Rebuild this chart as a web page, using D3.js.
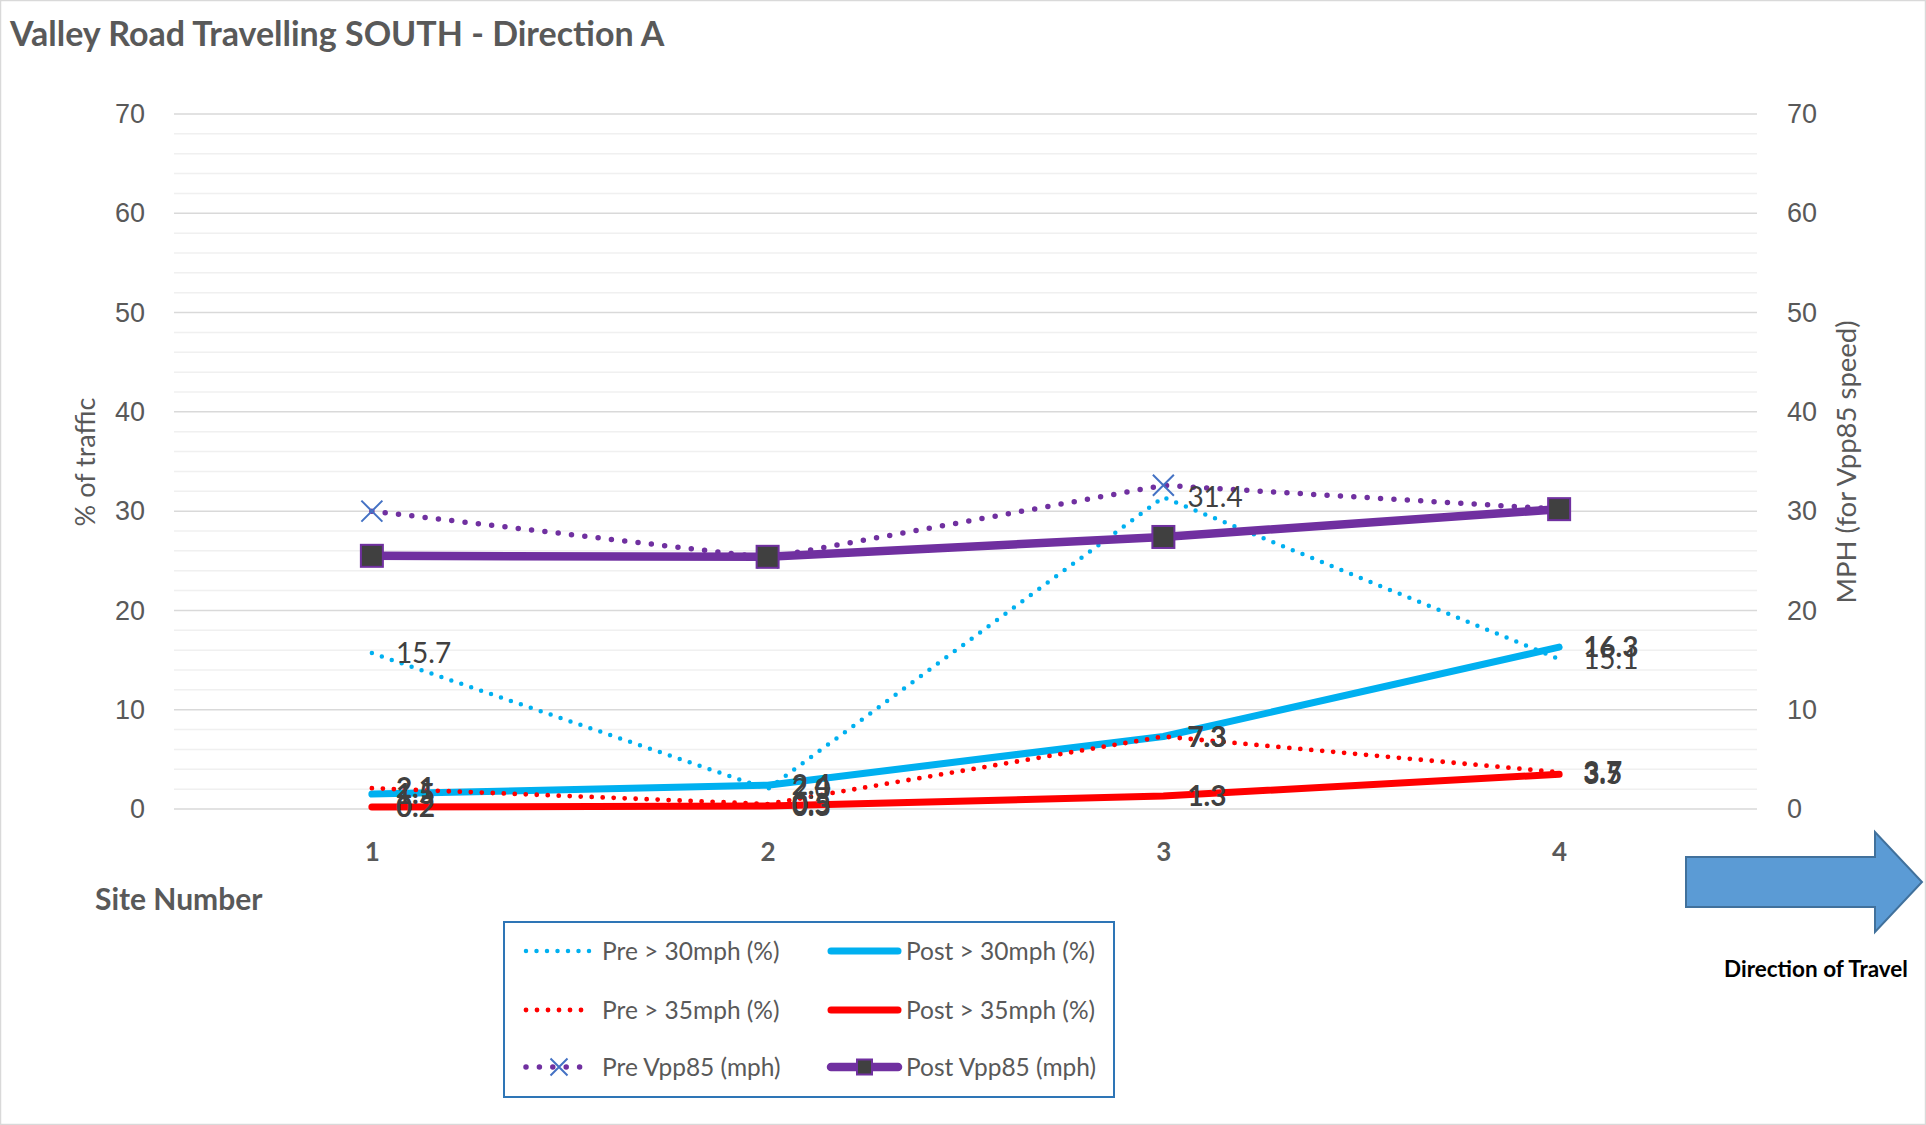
<!DOCTYPE html>
<html>
<head>
<meta charset="utf-8">
<script src="https://cdn.jsdelivr.net/npm/d3@7/dist/d3.min.js"></script>
<style>
  html, body { margin: 0; padding: 0; background: #ffffff; }
  svg { display: block; }
</style>
</head>
<body>
<svg id="chart" width="1926" height="1125"></svg>
<script>
// Site numbers along the road
const sites = ["1", "2", "3", "4"];

// Percentage of traffic over the speed thresholds
const pre30 = [15.7, 2.0, 31.4, 15.1];
const post30 = [1.5, 2.4, 7.3, 16.3];
const pre35 = [2.1, 0.5, 7.3, 3.7];
const post35 = [0.2, 0.3, 1.3, 3.5];

// 85th percentile speed (mph), secondary axis
const preVpp = [30.0, 25.3, 32.6, 30.2];
const postVpp = [25.5, 25.4, 27.4, 30.2];

// Axis ticks
const yTicks = [0, 10, 20, 30, 40, 50, 60, 70];
const yMinorTicks = d3.range(0, 71, 2);

const svg = d3.select("#chart");
const W = 1926, H = 1125;
const plot = { left: 174, right: 1757, top: 114, bottom: 809 };

const x = d3.scalePoint().domain(sites).range([plot.left, plot.right]).padding(0.5);
const y = d3.scaleLinear().domain([0, 70]).range([plot.bottom, plot.top]);
const y2 = d3.scaleLinear().domain([0, 70]).range([plot.bottom, plot.top]);

const calibri = "Lato, 'Open Sans', sans-serif";
const tickFont = "'Liberation Sans', Arial, sans-serif";
const grey = "#595959";

// Chart frame
svg.append("rect").attr("x", 0.5).attr("y", 0.5).attr("width", W - 1).attr("height", H - 1)
  .attr("fill", "#fff").attr("stroke", "#D9D9D9").attr("stroke-width", 1.5);

// Title
svg.append("text").attr("x", 10).attr("y", 46)
  .attr("font-family", calibri).attr("font-weight", 700).attr("font-size", 34)
  .attr("fill", grey).text("Valley Road Travelling SOUTH - Direction A");

// Gridlines: minor every 2, major every 10
const grid = svg.append("g");
grid.selectAll("line.minor").data(yMinorTicks.filter(v => v % 10 !== 0)).join("line")
  .attr("class", "minor")
  .attr("x1", plot.left).attr("x2", plot.right)
  .attr("y1", d => y(d)).attr("y2", d => y(d))
  .attr("stroke", "#F0F0F0").attr("stroke-width", 1.5);
grid.selectAll("line.major").data(yTicks).join("line")
  .attr("class", "major")
  .attr("x1", plot.left).attr("x2", plot.right)
  .attr("y1", d => y(d)).attr("y2", d => y(d))
  .attr("stroke", "#D9D9D9").attr("stroke-width", 1.5);

// Left axis
const leftAxis = svg.append("g").attr("transform", `translate(${plot.left},0)`)
  .call(d3.axisLeft(y).tickValues(yTicks).tickSize(0).tickPadding(29));
leftAxis.select(".domain").remove();
leftAxis.selectAll("text").attr("font-family", tickFont).attr("font-size", 27).attr("fill", grey);

// Right axis
const rightAxis = svg.append("g").attr("transform", `translate(${plot.right},0)`)
  .call(d3.axisRight(y2).tickValues(yTicks).tickSize(0).tickPadding(30));
rightAxis.select(".domain").remove();
rightAxis.selectAll("text").attr("font-family", tickFont).attr("font-size", 27).attr("fill", grey);

// Bottom axis (category labels)
const bottomAxis = svg.append("g").attr("transform", `translate(0,${plot.bottom})`)
  .call(d3.axisBottom(x).tickSize(0).tickPadding(34));
bottomAxis.select(".domain").remove();
bottomAxis.selectAll("text").attr("font-family", calibri).attr("font-weight", 700)
  .attr("font-size", 26).attr("fill", grey);

// Axis titles
svg.append("text").attr("transform", "translate(95,462) rotate(-90)")
  .attr("text-anchor", "middle").attr("font-family", calibri).attr("font-size", 27)
  .attr("fill", grey).text("% of traffic");
svg.append("text").attr("transform", "translate(1856,462) rotate(-90)")
  .attr("text-anchor", "middle").attr("font-family", calibri).attr("font-size", 27.5)
  .attr("fill", grey).text("MPH (for Vpp85 speed)");
svg.append("text").attr("x", 95).attr("y", 910)
  .attr("font-family", calibri).attr("font-weight", 700).attr("font-size", 30)
  .attr("fill", grey).text("Site Number");

// Series definitions
const series = [
  { name: "Pre > 30mph (%)", values: pre30, color: "#00B0F0", dotted: true, width: 4.5, gap: 10.5, scale: y, label: true, bold: false },
  { name: "Post > 30mph (%)", values: post30, color: "#00B0F0", dotted: false, width: 7, scale: y, label: true, bold: true },
  { name: "Pre > 35mph (%)", values: pre35, color: "#FF0000", dotted: true, width: 4.8, gap: 11, scale: y, label: true, bold: true },
  { name: "Post > 35mph (%)", values: post35, color: "#FF0000", dotted: false, width: 7, scale: y, label: true, bold: true },
  { name: "Pre Vpp85 (mph)", values: preVpp, color: "#7030A0", dotted: true, width: 5.5, gap: 13.4, scale: y2, marker: "x", label: false },
  { name: "Post Vpp85 (mph)", values: postVpp, color: "#7030A0", dotted: false, width: 8.5, scale: y2, marker: "square", label: false }
];

function styleStroke(sel, s) {
  sel.attr("fill", "none").attr("stroke", s.color).attr("stroke-width", s.width)
    .attr("stroke-linecap", "round").attr("stroke-linejoin", "round");
  if (s.dotted) sel.attr("stroke-dasharray", `0 ${s.gap}`);
  return sel;
}

function drawMarker(g, type, cx, cy, size) {
  if (type === "x") {
    const h = size / 2;
    g.append("path")
      .attr("d", `M${cx - h},${cy - h}L${cx + h},${cy + h}M${cx - h},${cy + h}L${cx + h},${cy - h}`)
      .attr("stroke", "#4472C4").attr("stroke-width", 2).attr("fill", "none");
  } else if (type === "square") {
    g.append("rect").attr("x", cx - size / 2).attr("y", cy - size / 2)
      .attr("width", size).attr("height", size)
      .attr("fill", "#404040").attr("stroke", "#7030A0").attr("stroke-width", 2);
  }
}

const linesG = svg.append("g");
const markersG = svg.append("g");
series.forEach(s => {
  const line = d3.line().x((d, i) => x(sites[i])).y(d => s.scale(d));
  styleStroke(linesG.append("path").datum(s.values).attr("d", line), s);
  if (s.marker) {
    s.values.forEach((v, i) => drawMarker(markersG, s.marker, x(sites[i]), s.scale(v), s.marker === "x" ? 21 : 22));
  }
});

// Data labels, placed to the right of each point
const labelsG = svg.append("g");
const fmt = d3.format(".1f");
series.filter(s => s.label).forEach(s => {
  labelsG.selectAll(null).data(s.values).join("text")
    .attr("x", (d, i) => x(sites[i]) + 24)
    .attr("y", d => s.scale(d))
    .attr("dy", "0.36em")
    .attr("font-family", calibri).attr("font-size", 28)
    .attr("font-weight", s.bold ? 700 : 400)
    .attr("fill", "#404040")
    .text(d => fmt(d));
});

// Legend
const legend = svg.append("g");
legend.append("rect").attr("x", 504).attr("y", 922).attr("width", 610).attr("height", 175)
  .attr("fill", "#fff").attr("stroke", "#2E75B6").attr("stroke-width", 2);
const legendRows = [951, 1010, 1067];
const legendCols = [{ x1: 526, x2: 592, tx: 602 }, { x1: 831, x2: 898, tx: 906 }];
series.forEach((s, i) => {
  const col = legendCols[i % 2], ry = legendRows[Math.floor(i / 2)];
  const g = legend.append("g");
  styleStroke(g.append("line").attr("x1", col.x1).attr("x2", col.x2).attr("y1", ry).attr("y2", ry), s);
  if (s.marker) drawMarker(g, s.marker, (col.x1 + col.x2) / 2, ry, s.marker === "x" ? 17 : 15);
  g.append("text").attr("x", col.tx).attr("y", ry).attr("dy", "0.36em")
    .attr("font-family", calibri).attr("font-size", 24.5).attr("fill", grey).text(s.name);
});

// Direction of travel arrow
const arrow = svg.append("g");
arrow.append("path")
  .attr("d", "M1686,857 L1875,857 L1875,832 L1922,882 L1875,932 L1875,907 L1686,907 Z")
  .attr("fill", "#5B9BD5").attr("stroke", "#41719C").attr("stroke-width", 2);
arrow.append("text").attr("x", 1816).attr("y", 977).attr("text-anchor", "middle")
  .attr("font-family", calibri).attr("font-weight", 700).attr("font-size", 22.5)
  .attr("fill", "#000").text("Direction of Travel");
</script>
</body>
</html>
